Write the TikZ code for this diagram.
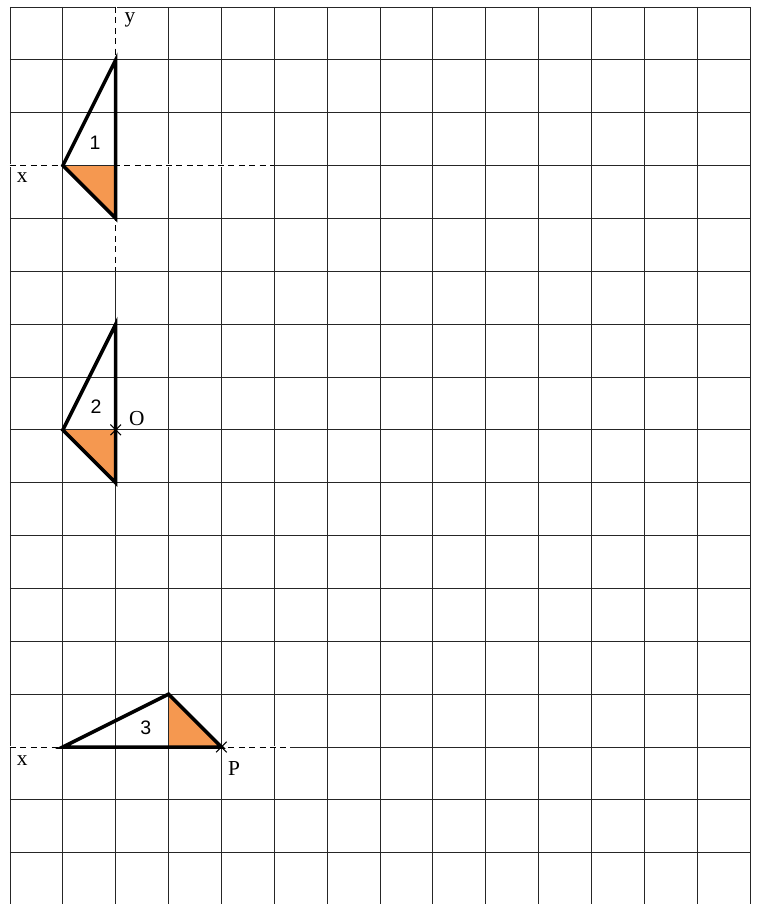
\documentclass[tikz,border=0pt]{standalone}
\usepackage{fontspec}
\setmainfont{Liberation Serif}
\newfontfamily\labelsans{Liberation Sans}
\definecolor{fillorange}{RGB}{245,152,80}
\tikzset{
  gridline/.style={line width=0.5pt, black!85},
  axisline/.style={line width=0.55pt, dash pattern=on 3.2pt off 2.4pt},
  cover/.style={line width=1.2pt, white},
  tri/.style={line width=1.9pt, line join=miter},
  part/.style={fill=fillorange, draw=none},
  numlab/.style={font=\labelsans\fontsize{10.5}{12}\selectfont, inner sep=0pt},
  axlab/.style={font=\fontsize{11.5}{13}\selectfont, inner sep=0pt},
  crossmark/.style={line width=0.6pt}
}
\begin{document}
\begin{tikzpicture}[x=1cm,y=1cm]
\useasboundingbox (-0.189,0.132) rectangle (14.15,-16.97);
\clip (-0.189,0.132) rectangle (14.15,-16.97);
% grid
\foreach \i in {0,...,14} \draw[gridline] (\i,0) -- (\i,-17.2);
\foreach \j in {0,...,17} \draw[gridline] (0,-\j) -- (14,-\j);
% axes
\coordinate (ax1l) at (0,-3);   \coordinate (ax1r) at (5,-3);
\coordinate (ay1t) at (2,0);    \coordinate (ay1b) at (2,-5);
\coordinate (ax3l) at (0,-14);  \coordinate (ax3r) at (5.3,-14);
\draw[cover] (ax1l) -- (ax1r);
\draw[cover] (ay1t) -- (ay1b);
\draw[cover] (ax3l) -- (ax3r);
\draw[axisline] (ax1l) -- (ax1r);
\draw[axisline] (ay1t) -- (ay1b);
\draw[axisline] (ax3l) -- (ax3r);
% triangle 1
\coordinate (a1) at (1,-3); \coordinate (b1) at (2,-1); \coordinate (c1) at (2,-4); \coordinate (m1) at (2,-3);
\fill[part] (a1) -- (m1) -- (c1) -- cycle;
\draw[gridline] (a1) -- (m1);
\draw[tri] (a1) -- (b1) -- (c1) -- cycle;
% triangle 2
\coordinate (a2) at (1,-8); \coordinate (b2) at (2,-6); \coordinate (c2) at (2,-9); \coordinate (m2) at (2,-8);
\fill[part] (a2) -- (m2) -- (c2) -- cycle;
\draw[gridline] (a2) -- (m2);
\draw[tri] (a2) -- (b2) -- (c2) -- cycle;
% triangle 3
\coordinate (a3) at (1,-14); \coordinate (b3) at (3,-13); \coordinate (c3) at (4,-14); \coordinate (m3) at (3,-14);
\fill[part] (b3) -- (m3) -- (c3) -- cycle;
\draw[gridline] (b3) -- (m3);
\draw[tri] (a3) -- (b3) -- (c3) -- cycle;
% cross marks
\draw[crossmark] ([shift={(-0.1,-0.1)}]m2) -- ([shift={(0.1,0.1)}]m2);
\draw[crossmark] ([shift={(-0.1,0.1)}]m2) -- ([shift={(0.1,-0.1)}]m2);
\draw[crossmark] ([shift={(-0.1,-0.1)}]c3) -- ([shift={(0.1,0.1)}]c3);
\draw[crossmark] ([shift={(-0.1,0.1)}]c3) -- ([shift={(0.1,-0.1)}]c3);
% labels
\node[axlab] (ylab) at (2.27,-0.25) {y};
\node[axlab] (xlab1) at (0.23,-3.22) {x};
\node[numlab] (n1) at (1.61,-2.57) {1};
\node[numlab] (n2) at (1.63,-7.57) {2};
\node[axlab] (olab) at (2.40,-7.78) {O};
\node[numlab] (n3) at (2.57,-13.64) {3};
\node[axlab] (plab) at (4.24,-14.40) {P};
\node[axlab] (xlab3) at (0.23,-14.25) {x};
\end{tikzpicture}
\end{document}
